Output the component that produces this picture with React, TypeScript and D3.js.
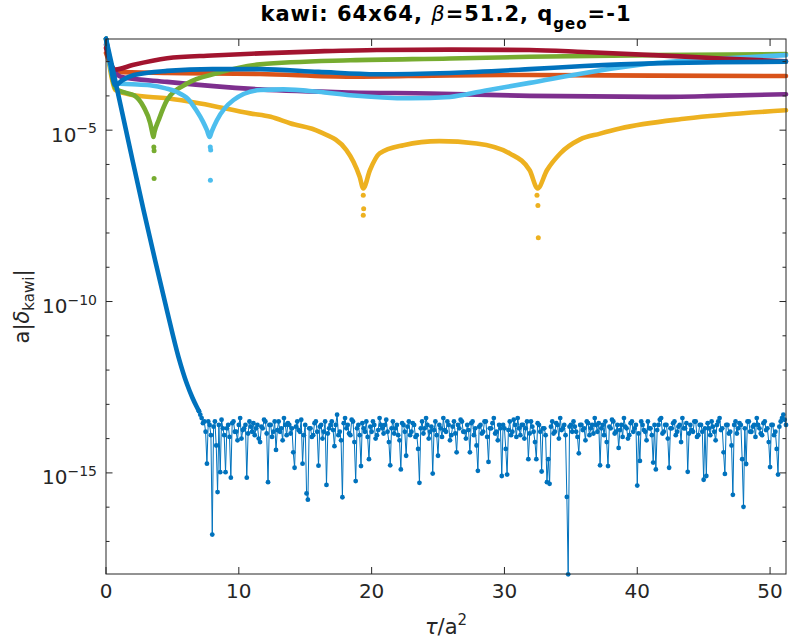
import * as d3 from "d3";

type Pt = [number, number]; // [tau/a^2, log10 a|delta|]

// smooth series (keypoints)
const blueDecay: Pt[] = [
  [0, -2.33], [0.5, -3.2], [1.0, -4.1], [1.83, -5.58], [2.83, -7.34], [3.7, -8.8],
  [4.59, -10.26], [5.46, -11.62], [6.09, -12.4], [6.5, -12.8], [6.84, -13.08], [7.0, -13.2],
];
const blueUpper: Pt[] = [
  [0, -2.33], [0.3, -3.0], [0.7, -3.69], [1.2, -3.55], [2.1, -3.39], [4.6, -3.27], [8, -3.22],
  [11.6, -3.22], [16, -3.3], [20.4, -3.37], [25.9, -3.33], [31.9, -3.22], [36, -3.13],
  [41.2, -3.05], [46, -3.02], [51.2, -3.0],
];
const orange: Pt[] = [
  [0, -2.75], [0.3, -3.05], [0.7, -3.3], [4.6, -3.33], [11.6, -3.36], [18.5, -3.44],
  [25.9, -3.4], [31.9, -3.39], [41.2, -3.41], [51.2, -3.42],
];
const red: Pt[] = [
  [0, -2.6], [0.3, -3.0], [0.7, -3.23], [2, -3.1], [4.6, -2.9], [8, -2.82], [11.6, -2.76],
  [16, -2.7], [20.4, -2.66], [26, -2.65], [31.9, -2.66], [36, -2.72], [41.2, -2.81],
  [46, -2.9], [51.2, -2.99],
];
const purple: Pt[] = [
  [0, -2.5], [0.3, -3.0], [1.1, -3.44], [4.6, -3.59], [11.6, -3.81], [18.4, -3.9],
  [24.4, -3.93], [31.9, -4.0], [41.2, -4.03], [46, -4.0], [51.2, -3.95],
];
const green: Pt[] = [
  [0, -2.33], [0.3, -3.1], [0.7, -3.78], [1.4, -3.9], [2.1, -3.98], [2.83, -4.32],
  [3.33, -4.8], [3.5, -5.1], [3.57, -5.2], [3.65, -5.05], [3.96, -4.71], [4.6, -4.12],
  [6.1, -3.64], [8.35, -3.34], [11.6, -3.08], [18.4, -2.96], [25.9, -2.91], [31.9, -2.86],
  [41.2, -2.81], [51.2, -2.78],
];
const greenDip: Pt[] = [[3.6, -5.49], [3.62, -5.6], [3.62, -6.41]];
const lightBlue: Pt[] = [
  [0, -2.33], [0.3, -3.1], [0.8, -3.64], [2, -3.66], [3.3, -3.69], [4.5, -3.78], [5.3, -3.88],
  [6.2, -4.1], [6.8, -4.42], [7.3, -4.75], [7.6, -5.0], [7.8, -5.2], [7.95, -5.05],
  [8.35, -4.71], [9.6, -4.12], [11.6, -3.83], [13.35, -3.81], [16, -3.88], [18.4, -3.98],
  [22.9, -4.07], [25.9, -4.03], [28.5, -3.85], [31.9, -3.62], [36.5, -3.3], [41.2, -3.05],
  [46, -2.92], [51.2, -2.81],
];
const lightBlueDip: Pt[] = [[7.85, -5.49], [7.88, -5.58], [7.86, -6.46]];
const yellow: Pt[] = [
  [0, -2.33], [0.3, -3.2], [0.7, -3.83], [2.1, -3.98], [4.6, -4.07], [7.1, -4.22],
  [10.85, -4.51], [12.4, -4.61], [13.86, -4.8], [16.1, -5.05], [18.1, -5.58], [19.1, -6.36],
  [19.37, -6.7], [19.87, -6.17], [20.6, -5.68], [22.4, -5.44], [25.1, -5.32], [27.9, -5.39],
  [30.4, -5.68], [31.9, -6.17], [32.5, -6.7], [33.2, -6.17], [34.2, -5.68], [35.7, -5.27],
  [37.2, -5.1], [38.7, -4.95], [43.7, -4.66], [51.2, -4.42],
];
const yellowDip: Pt[] = [
  [19.37, -6.9], [19.4, -7.29], [19.37, -7.48],
  [32.45, -6.9], [32.52, -7.2], [32.55, -8.14],
];

// round-off noise floor of the decaying blue series, tau = 7.0 + 0.1 i
const noiseStart = 7.0;
const noiseStep = 0.1;
const noise = [
  -13.2, -13.3, -13.4, -13.55, -13.5, -13.8, -14.73, -13.5, -13.6, -13.9, -16.8, -13.65, -13.5, -14.2, -15.56, -13.6, -14.98, -13.45, -13.7, -13.9,
  -14.98, -13.7, -13.6, -13.95, -15.14, -13.55, -13.5, -13.8, -13.8, -14.05, -13.6, -13.4, -14.0, -13.75, -13.7, -13.6, -15.14, -13.85, -13.5, -13.65,
  -13.8, -13.55, -13.9, -13.7, -13.6, -14.0, -14.1, -13.65, -13.7, -13.45, -13.5, -13.85, -15.27, -13.6, -13.6, -13.95, -13.8, -13.5, -14.33, -13.75,
  -13.5, -13.8, -13.7, -14.05, -13.4, -13.6, -13.9, -13.55, -13.6, -13.85, -13.7, -14.4, -14.85, -13.65, -13.5, -13.75, -13.8, -13.45, -14.73, -13.9,
  -13.6, -15.6, -15.78, -13.7, -13.7, -13.95, -13.9, -13.55, -13.5, -13.8, -14.79, -13.65, -13.6, -14.0, -13.8, -13.5, -15.35, -13.85, -13.7, -13.6,
  -13.5, -13.75, -14.22, -13.6, -13.3, -13.9, -13.8, -14.05, -15.71, -13.55, -13.4, -13.7, -13.6, -13.85, -13.9, -13.45, -13.5, -14.1, -15.24, -13.7,
  -13.6, -13.9, -14.8, -13.55, -13.7, -13.8, -13.5, -13.95, -14.6, -13.65, -13.8, -13.5, -13.6, -14.0, -13.9, -13.75, -13.4, -13.6, -13.7, -13.85,
  -13.6, -13.45, -13.8, -14.1, -14.78, -13.7, -13.5, -13.85, -13.7, -13.6, -13.9, -14.05, -14.9, -13.55, -13.6, -13.8, -14.5, -13.65, -13.5, -13.9,
  -13.8, -13.55, -13.6, -13.95, -13.9, -14.3, -15.29, -13.7, -13.5, -13.85, -13.7, -13.4, -13.6, -14.0, -13.8, -13.65, -15.02, -13.75, -13.5, -13.9,
  -14.5, -13.6, -13.7, -13.95, -13.4, -13.75, -13.8, -13.5, -13.6, -14.05, -13.9, -13.65, -13.5, -13.85, -14.4, -13.6, -13.7, -13.45, -13.5, -13.8,
  -13.8, -14.0, -13.6, -13.75, -14.4, -13.55, -13.5, -13.9, -13.7, -14.2, -14.94, -13.65, -13.6, -13.85, -13.8, -13.5, -13.5, -13.95, -14.68, -13.7,
  -13.7, -13.55, -13.4, -13.85, -13.8, -14.05, -13.6, -13.7, -15.09, -13.6, -13.7, -14.3, -15.05, -13.75, -13.5, -13.9, -13.8, -13.45, -13.6, -13.95,
  -13.4, -13.7, -13.9, -13.6, -13.6, -14.0, -13.7, -13.5, -14.6, -13.85, -13.5, -13.65, -13.8, -14.1, -14.6, -13.55, -13.6, -13.8, -14.96, -13.7,
  -13.7, -13.9, -15.27, -14.6, -15.32, -13.65, -13.5, -13.85, -13.8, -13.55, -13.6, -14.0, -13.4, -13.75, -13.7, -13.6, -13.9, -15.7, -17.96, -13.65,
  -13.6, -13.8, -13.5, -13.65, -13.8, -13.95, -14.43, -13.6, -13.6, -13.75, -13.7, -14.05, -13.5, -13.55, -13.9, -13.7, -13.6, -13.85, -13.4, -13.6,
  -13.8, -13.55, -14.78, -13.7, -13.6, -13.9, -13.5, -14.1, -14.8, -13.65, -13.7, -13.45, -13.5, -13.85, -13.8, -13.6, -14.27, -13.75, -13.6, -13.95,
  -13.4, -13.65, -13.7, -14.0, -13.9, -13.55, -13.5, -13.8, -13.7, -13.6, -15.37, -13.85, -14.65, -13.5, -13.6, -13.75, -13.8, -14.05, -13.5, -13.7,
  -13.7, -13.9, -14.7, -13.6, -14.9, -13.75, -13.6, -13.45, -13.4, -13.85, -13.8, -13.6, -13.6, -14.0, -14.85, -13.7, -13.7, -13.55, -13.5, -13.9,
  -13.8, -13.65, -13.6, -14.1, -13.4, -13.7, -13.7, -13.55, -14.97, -13.85, -13.6, -13.75, -13.8, -13.5, -13.5, -13.95, -13.9, -13.6, -13.6, -13.8,
  -15.2, -13.7, -15.09, -13.55, -13.7, -13.9, -13.5, -13.65, -13.8, -14.05, -13.6, -13.5, -13.4, -13.75, -13.7, -14.4, -15.03, -13.6, -13.6, -13.85,
  -13.8, -14.2, -15.64, -13.6, -13.5, -13.85, -13.7, -13.55, -13.6, -14.6, -15.99, -13.7, -14.74, -13.5, -13.5, -13.8, -13.8, -13.65, -13.6, -13.95,
  -13.4, -13.6, -13.7, -13.85, -13.9, -13.55, -13.5, -13.75, -13.7, -14.1, -14.83, -13.6, -13.6, -13.9, -13.8, -14.3, -15.05, -13.65, -13.5, -13.4,
  -13.3, -13.45, -13.6,
];

const xTicks = [0, 10, 20, 30, 40, 50];
const yLabelExps = [-5, -10, -15];
const yMinorExps = d3.range(-17, -2);

const C = {
  blue: "#0072BD",
  orange: "#D95319",
  yellow: "#EDB120",
  purple: "#7E2F8E",
  green: "#77AC30",
  lightBlue: "#4DBEEE",
  red: "#A2142F",
  axis: "#262626",
};

const bands: { data: Pt[]; dip: Pt[]; color: string }[] = [
  { data: orange, dip: [], color: C.orange },
  { data: yellow, dip: yellowDip, color: C.yellow },
  { data: purple, dip: [], color: C.purple },
  { data: green, dip: greenDip, color: C.green },
  { data: lightBlue, dip: lightBlueDip, color: C.lightBlue },
  { data: red, dip: [], color: C.red },
  { data: blueUpper, dip: [], color: C.blue },
  { data: blueDecay, dip: [], color: C.blue },
];

export default function App() {
  const W = 789;
  const H = 642;
  const L = 106, R = 786, T = 39, B = 574;
  const x = d3.scaleLinear().domain([0, 51.2]).range([L, R]);
  const y = d3.scaleLog().domain([10 ** -17.95, 10 ** -2.34]).range([B, T]);
  const py = (v: number) => y(10 ** v);

  const band = d3
    .line<Pt>()
    .x((d) => x(d[0]))
    .y((d) => py(d[1]))
    .curve(d3.curveMonotoneX);

  const noisePts: Pt[] = noise.map((v, i) => [noiseStart + i * noiseStep, v]);
  const thin = d3
    .line<Pt>()
    .x((d) => x(d[0]))
    .y((d) => py(d[1]));

  const font = "DejaVu Sans, sans-serif";

  return (
    <svg
      width={W}
      height={H}
      style={{ position: "absolute", left: 0, top: 0, background: "#fff" }}
      fontFamily={font}
    >
      <defs>
        <clipPath id="plot">
          <rect x={L - 4} y={T - 4} width={R - L + 8} height={B - T + 8} />
        </clipPath>
      </defs>

      <g clipPath="url(#plot)">
        {bands.map((s, i) => (
          <g key={i}>
            <path
              d={band(s.data) ?? ""}
              fill="none"
              stroke={s.color}
              strokeWidth={4.6}
              strokeLinejoin="round"
              strokeLinecap="round"
            />
            {s.dip.map((d, j) => (
              <circle key={j} cx={x(d[0])} cy={py(d[1])} r={2.5} fill={s.color} />
            ))}
          </g>
        ))}
        <path d={thin(noisePts) ?? ""} fill="none" stroke={C.blue} strokeWidth={1} />
        {noisePts.map((d, j) => (
          <circle key={j} cx={x(d[0])} cy={py(d[1])} r={2.4} fill={C.blue} />
        ))}
      </g>

      {/* axes box */}
      <rect x={L} y={T} width={R - L} height={B - T} fill="none" stroke={C.axis} strokeWidth={1} />

      {xTicks.map((t) => (
        <g key={t}>
          <line x1={x(t)} x2={x(t)} y1={B} y2={B - 7} stroke={C.axis} />
          <line x1={x(t)} x2={x(t)} y1={T} y2={T + 7} stroke={C.axis} />
          <text x={x(t)} y={598} textAnchor="middle" fontSize={20} fill={C.axis}>
            {t}
          </text>
        </g>
      ))}

      {yMinorExps.map((e) => {
        const major = yLabelExps.includes(e);
        const len = major ? 6.5 : 3.5;
        return (
          <g key={e}>
            <line x1={L} x2={L + len} y1={py(e)} y2={py(e)} stroke={C.axis} />
            <line x1={R} x2={R - len} y1={py(e)} y2={py(e)} stroke={C.axis} />
          </g>
        );
      })}

      {yLabelExps.map((e) => (
        <text key={e} x={97} y={py(e) + 11.5} textAnchor="end" fontSize={20} fill={C.axis}>
          10
          <tspan fontSize={14} dy={-8.5}>
            {"\u2212" + Math.abs(e)}
          </tspan>
        </text>
      ))}

      {/* title */}
      <text
        x={(L + R) / 2}
        y={21}
        textAnchor="middle"
        fontSize={21}
        fontWeight="bold"
        letterSpacing={1}
        fill="#000"
      >
        kawi: 64x64,{" "}
        <tspan fontStyle="italic" fontWeight="normal">
          β
        </tspan>
        =51.2, q
        <tspan fontSize={15} dy={8}>
          geo
        </tspan>
        <tspan dy={-8}>=-1</tspan>
      </text>

      {/* x label */}
      <text x={(L + R) / 2} y={634} textAnchor="middle" fontSize={21} fill={C.axis}>
        <tspan fontStyle="italic">τ</tspan>/a
        <tspan fontSize={15} dy={-9}>
          2
        </tspan>
      </text>

      {/* y label */}
      <text
        transform={`translate(29,${(T + B) / 2}) rotate(-90)`}
        textAnchor="middle"
        fontSize={21}
        fill={C.axis}
      >
        a|<tspan fontStyle="italic">δ</tspan>
        <tspan fontSize={15} dy={5}>
          kawi
        </tspan>
        <tspan dy={-5}>|</tspan>
      </text>
    </svg>
  );
}
